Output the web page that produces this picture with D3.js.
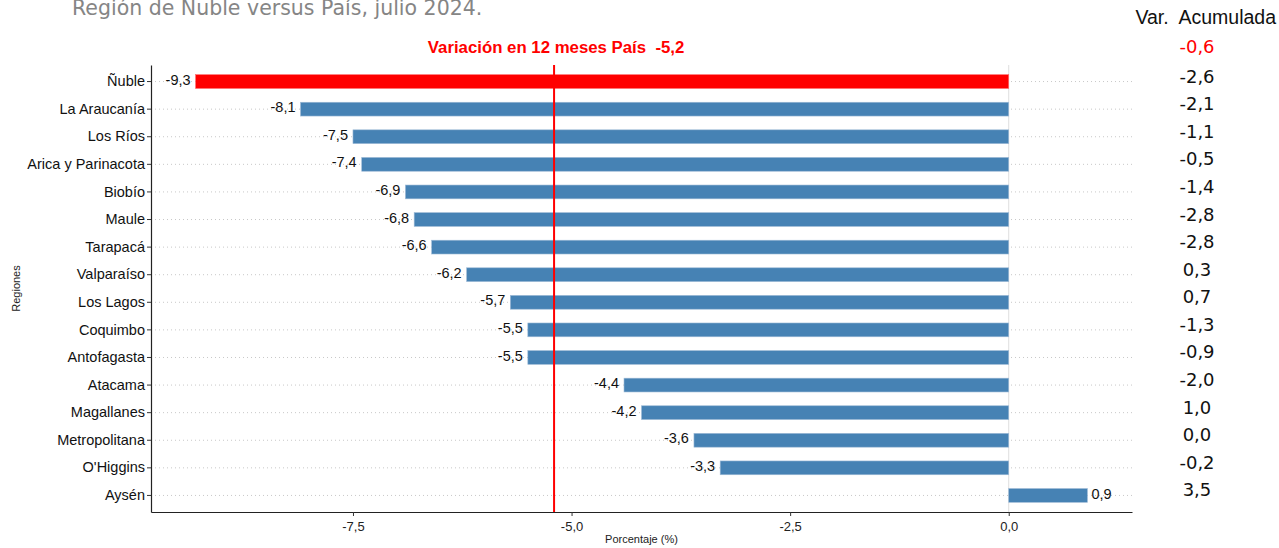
<!DOCTYPE html>
<html>
<head>
<meta charset="utf-8">
<script src="https://cdn.jsdelivr.net/npm/d3@7"></script>
<style>
  body { margin: 0; background: #fff; }
  text { font-family: "Liberation Sans", Arial, sans-serif; }
</style>
</head>
<body>
<div id="chart"></div>
<script>
var regions = ['Ñuble', 'La Araucanía', 'Los Ríos', 'Arica y Parinacota', 'Biobío', 'Maule',
  'Tarapacá', 'Valparaíso', 'Los Lagos', 'Coquimbo', 'Antofagasta', 'Atacama',
  'Magallanes', 'Metropolitana', "O'Higgins", 'Aysén'];
var var12 = [-9.3, -8.1, -7.5, -7.4, -6.9, -6.8, -6.6, -6.2, -5.7, -5.5, -5.5, -4.4, -4.2, -3.6, -3.3, 0.9];
var varAcum = [-2.6, -2.1, -1.1, -0.5, -1.4, -2.8, -2.8, 0.3, 0.7, -1.3, -0.9, -2.0, 1.0, 0.0, -0.2, 3.5];
var paisVar12 = -5.2;
var paisAcum = -0.6;
var xTicks = [-7.5, -5.0, -2.5, 0.0];

var width = 1279, height = 548;
var margin = { top: 65, right: 147, bottom: 36, left: 151 };

var fmt = function(v) { return d3.format('.1f')(v).replace('.', ',').replace('−', '-'); };

var svg = d3.select('#chart').append('svg')
  .attr('width', width)
  .attr('height', height);

var ext = d3.extent(var12.concat([0]));
var pad = (ext[1] - ext[0]) * 0.05;
var x = d3.scaleLinear()
  .domain([ext[0] - pad, ext[1] + pad])
  .range([margin.left, width - margin.right]);

var y = d3.scaleBand()
  .domain(regions)
  .range([margin.top, height - margin.bottom])
  .paddingInner(0.5)
  .paddingOuter(0.35);

var data = regions.map(function(r, i) {
  return { region: r, value: var12[i], acum: varAcum[i] };
});

function mid(d) { return y(d) + y.bandwidth() / 2; }

// dotted grid lines
svg.append('g').selectAll('line')
  .data(regions)
  .enter().append('line')
  .attr('x1', margin.left)
  .attr('x2', width - margin.right)
  .attr('y1', mid)
  .attr('y2', mid)
  .attr('stroke', '#c8c8c8')
  .attr('stroke-width', 1)
  .attr('stroke-dasharray', '1,3');

// zero line
svg.append('line')
  .attr('x1', x(0)).attr('x2', x(0))
  .attr('y1', margin.top).attr('y2', height - margin.bottom)
  .attr('stroke', '#dedede')
  .attr('stroke-width', 1);

// bars
svg.append('g').selectAll('rect')
  .data(data)
  .enter().append('rect')
  .attr('x', function(d) { return x(Math.min(0, d.value)); })
  .attr('y', function(d) { return y(d.region); })
  .attr('width', function(d) { return Math.abs(x(d.value) - x(0)); })
  .attr('height', y.bandwidth())
  .attr('fill', function(d, i) { return i === 0 ? '#ff0000' : '#4682b4'; })
  .attr('stroke', function(d, i) { return i === 0 ? '#ff6b6b' : '#9dbad6'; })
  .attr('stroke-width', 0.6);

// value labels
svg.append('g').selectAll('text')
  .data(data)
  .enter().append('text')
  .attr('x', function(d) { return d.value < 0 ? x(d.value) - 5 : x(d.value) + 4; })
  .attr('y', function(d) { return mid(d.region) - 2; })
  .attr('dy', '0.35em')
  .attr('text-anchor', function(d) { return d.value < 0 ? 'end' : 'start'; })
  .attr('font-size', 14.5)
  .attr('fill', '#111')
  .text(function(d) { return fmt(d.value); });

// country reference line
svg.append('line')
  .attr('x1', x(paisVar12)).attr('x2', x(paisVar12))
  .attr('y1', margin.top).attr('y2', height - margin.bottom)
  .attr('stroke', '#ff0000')
  .attr('stroke-width', 2);

svg.append('text')
  .attr('x', x(paisVar12) + 2)
  .attr('y', 53)
  .attr('text-anchor', 'middle')
  .attr('font-size', 16.8)
  .attr('font-weight', 'bold')
  .attr('fill', '#ff0000')
  .style('white-space', 'pre')
  .text('Variación en 12 meses País  ' + fmt(paisVar12));

// axes
var xAxis = svg.append('g')
  .attr('transform', 'translate(0,' + (height - margin.bottom) + ')')
  .call(d3.axisBottom(x).tickValues(xTicks).tickSize(4).tickSizeOuter(0).tickFormat(fmt));
xAxis.select('.domain').attr('stroke', '#222').attr('stroke-width', 1.2);
xAxis.selectAll('.tick line').attr('stroke', '#333');
xAxis.selectAll('.tick text').attr('font-size', 13).attr('fill', '#222')
  .attr('font-family', '"Liberation Sans", Arial, sans-serif').attr('dy', '0.9em');

var yAxis = svg.append('g')
  .attr('transform', 'translate(' + margin.left + ',0)')
  .call(d3.axisLeft(y).tickSize(4).tickSizeOuter(0).tickPadding(2));
yAxis.select('.domain').attr('stroke', '#222').attr('stroke-width', 1.2);
yAxis.selectAll('.tick line').attr('stroke', '#333');
yAxis.selectAll('.tick text').attr('font-size', 14.5).attr('fill', '#111')
  .attr('font-family', '"Liberation Sans", Arial, sans-serif');

// axis titles
svg.append('text')
  .attr('x', (margin.left + width - margin.right) / 2)
  .attr('y', 543)
  .attr('text-anchor', 'middle')
  .attr('font-size', 11)
  .attr('fill', '#222')
  .text('Porcentaje (%)');

svg.append('text')
  .attr('transform', 'translate(20,' + ((margin.top + height - margin.bottom) / 2) + ') rotate(-90)')
  .attr('text-anchor', 'middle')
  .attr('font-size', 11)
  .attr('fill', '#222')
  .text('Regiones');

// main title (partly cut off at top, as in the original)
svg.append('text')
  .attr('x', 72)
  .attr('y', 15)
  .attr('font-size', 20.5)
  .attr('fill', '#858585')
  .style('font-family', '"DejaVu Sans", sans-serif')
  .text('Región de Ñuble versus País, julio 2024.');

// accumulated variation column
var colX = 1197;
svg.append('text')
  .attr('x', 1276)
  .attr('y', 24)
  .attr('text-anchor', 'end')
  .attr('font-size', 19.5)
  .attr('fill', '#111')
  .style('white-space', 'pre')
  .text('Var.  Acumulada');

svg.append('text')
  .attr('x', colX)
  .attr('y', 53)
  .attr('text-anchor', 'middle')
  .attr('font-size', 18)
  .attr('fill', '#ff0000')
  .style('font-family', '"DejaVu Sans", sans-serif')
  .text(fmt(paisAcum));

svg.append('g').selectAll('text')
  .data(data)
  .enter().append('text')
  .attr('x', colX)
  .attr('y', function(d) { return mid(d.region) + 1; })
  .attr('text-anchor', 'middle')
  .attr('font-size', 18)
  .attr('fill', '#111')
  .style('font-family', '"DejaVu Sans", sans-serif')
  .text(function(d) { return fmt(d.acum); });
</script>
</body>
</html>
